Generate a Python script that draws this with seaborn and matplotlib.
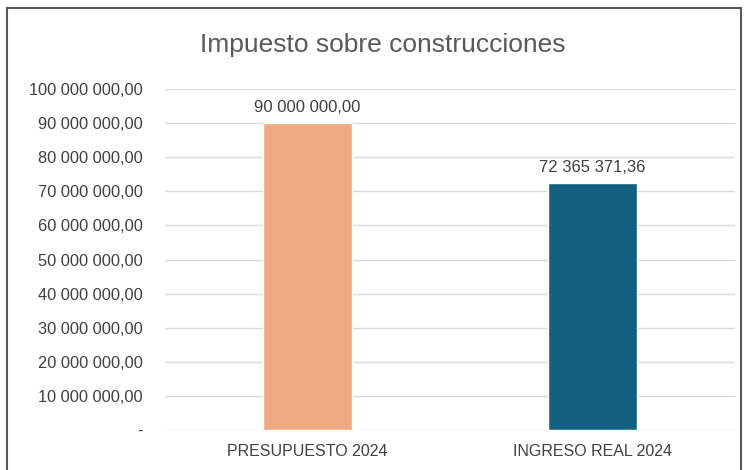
import matplotlib
matplotlib.use("Agg")
import matplotlib.pyplot as plt
import seaborn as sns
import pandas as pd
from matplotlib.patches import Rectangle
from matplotlib.ticker import FuncFormatter

categories = ["PRESUPUESTO 2024", "INGRESO REAL 2024"]
values = [90000000.00, 72365371.36]
colors = ["#F1A983", "#156082"]
title = "Impuesto sobre construcciones"

sns.set_theme(style="white")
plt.rcParams['font.family'] = ['Liberation Sans Narrow', 'Liberation Sans', 'DejaVu Sans']

def fmt(v):
    s = f"{v:,.2f}"
    s = s.replace(",", " ").replace(".", ",")
    return s

df = pd.DataFrame({"cat": categories, "val": values})

fig = plt.figure(figsize=(7.44, 4.70), dpi=100)
ax = fig.add_axes([165/744, 1-430/470, (735-165)/744, (430-89)/470])
sns.barplot(data=df, x="cat", y="val", hue="cat", palette=colors, width=0.31,
            legend=False, ax=ax, saturation=1)
ax.set_ylim(0, 100000000)
ax.set_xlim(-0.5, 1.5)
ax.set_yticks(range(0, 100000001, 10000000))
ax.yaxis.set_major_formatter(FuncFormatter(lambda v, p: "-" if v == 0 else fmt(v)))
ax.grid(axis="y", color="#D9D9D9", linewidth=1)
ax.set_axisbelow(True)
for s in ax.spines.values():
    s.set_visible(False)
ax.set_xlabel("")
ax.set_ylabel("")
ax.tick_params(axis="y", labelsize=11.8, colors="#595959", length=0, pad=16)
ax.tick_params(axis="x", labelsize=11.5, colors="#595959", length=0, pad=10)
for lbl in ax.get_yticklabels():
    lbl.set_color("#404040")
for lbl in ax.get_xticklabels():
    lbl.set_color("#404040")
for i, v in enumerate(values):
    ax.text(i, v + 2500000, fmt(v), ha="center", va="bottom", fontsize=12, color="#404040")

fig.text(383/744, 1-45/470, title, ha="center", va="center", fontsize=19, color="#595959")

border = Rectangle((7/744, -0.1), (741-7)/744, 1.1 - 8/470, transform=fig.transFigure,
                   fill=False, edgecolor="#595959", linewidth=1.5, clip_on=False)
fig.patches.append(border)

fig.savefig("out.png", dpi=100)
